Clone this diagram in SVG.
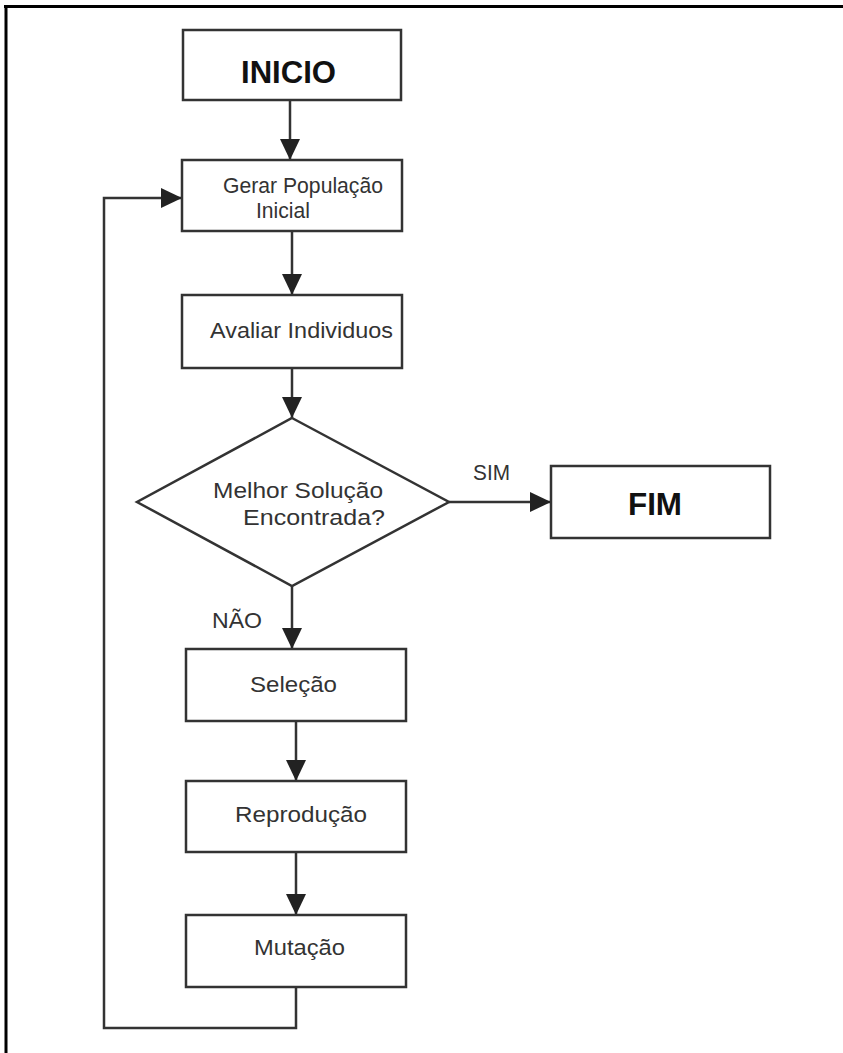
<svg xmlns="http://www.w3.org/2000/svg" width="843" height="1053" viewBox="0 0 843 1053">
<defs>
<marker id="arr" markerUnits="userSpaceOnUse" markerWidth="22" markerHeight="22" refX="21" refY="11" orient="auto">
<path d="M0,1 L21,11 L0,21 Z" fill="#222"/>
</marker>
<style>
.box{fill:#fff;stroke:#333;stroke-width:2.5}
.t{font-family:"Liberation Sans",Arial,sans-serif;font-size:22px;fill:#333}
.b{font-family:"Liberation Sans",Arial,sans-serif;font-size:32px;font-weight:bold;fill:#111}
.c{fill:none;stroke:#333;stroke-width:2.5}
</style>
</defs>
<rect width="843" height="1053" fill="#fff"/>
<g id="frame">
<line x1="4" y1="6.5" x2="843" y2="6.5" stroke="#000" stroke-width="3"/>
<line x1="6" y1="5" x2="6" y2="1053" stroke="#000" stroke-width="3"/>
</g>
<g id="connectors">
<path class="c" d="M290,101 L290,160" marker-end="url(#arr)"/>
<path class="c" d="M292,231 L292,295" marker-end="url(#arr)"/>
<path class="c" d="M292,368 L292,418" marker-end="url(#arr)"/>
<path class="c" d="M449,502 L551,502" marker-end="url(#arr)"/>
<path class="c" d="M292,586 L292,649" marker-end="url(#arr)"/>
<path class="c" d="M296,721 L296,781" marker-end="url(#arr)"/>
<path class="c" d="M296,852 L296,915" marker-end="url(#arr)"/>
<path class="c" d="M296,987 L296,1028 L104,1028 L104,198 L182,198" marker-end="url(#arr)"/>
<text class="t" x="473" y="480" textLength="37" lengthAdjust="spacingAndGlyphs">SIM</text>
<text class="t" x="212" y="628" textLength="50" lengthAdjust="spacingAndGlyphs">NÃO</text>
</g>
<g id="inicio">
<rect class="box" x="183" y="30" width="218" height="70"/>
<text class="b" x="241" y="83" textLength="95" lengthAdjust="spacingAndGlyphs">INICIO</text>
</g>
<g id="gerar">
<rect class="box" x="182" y="160" width="220" height="71"/>
<text class="t" x="223" y="193" textLength="160" lengthAdjust="spacingAndGlyphs">Gerar População</text>
<text class="t" x="256" y="218" textLength="54" lengthAdjust="spacingAndGlyphs">Inicial</text>
</g>
<g id="avaliar">
<rect class="box" x="182" y="295" width="220" height="73"/>
<text class="t" x="210" y="338" textLength="183" lengthAdjust="spacingAndGlyphs">Avaliar Individuos</text>
</g>
<g id="decisao">
<polygon class="box" points="292,418 449,502 292,586 137,502"/>
<text class="t" x="213" y="498" textLength="170" lengthAdjust="spacingAndGlyphs">Melhor Solução</text>
<text class="t" x="243" y="525" textLength="142" lengthAdjust="spacingAndGlyphs">Encontrada?</text>
</g>
<g id="fim">
<rect class="box" x="551" y="466" width="219" height="72"/>
<text class="b" x="628" y="515" textLength="54" lengthAdjust="spacingAndGlyphs">FIM</text>
</g>
<g id="selecao">
<rect class="box" x="186" y="649" width="220" height="72"/>
<text class="t" x="250" y="692" textLength="87" lengthAdjust="spacingAndGlyphs">Seleção</text>
</g>
<g id="reproducao">
<rect class="box" x="186" y="781" width="220" height="71"/>
<text class="t" x="235" y="822" textLength="132" lengthAdjust="spacingAndGlyphs">Reprodução</text>
</g>
<g id="mutacao">
<rect class="box" x="186" y="915" width="220" height="72"/>
<text class="t" x="254" y="955" textLength="91" lengthAdjust="spacingAndGlyphs">Mutação</text>
</g>
</svg>
